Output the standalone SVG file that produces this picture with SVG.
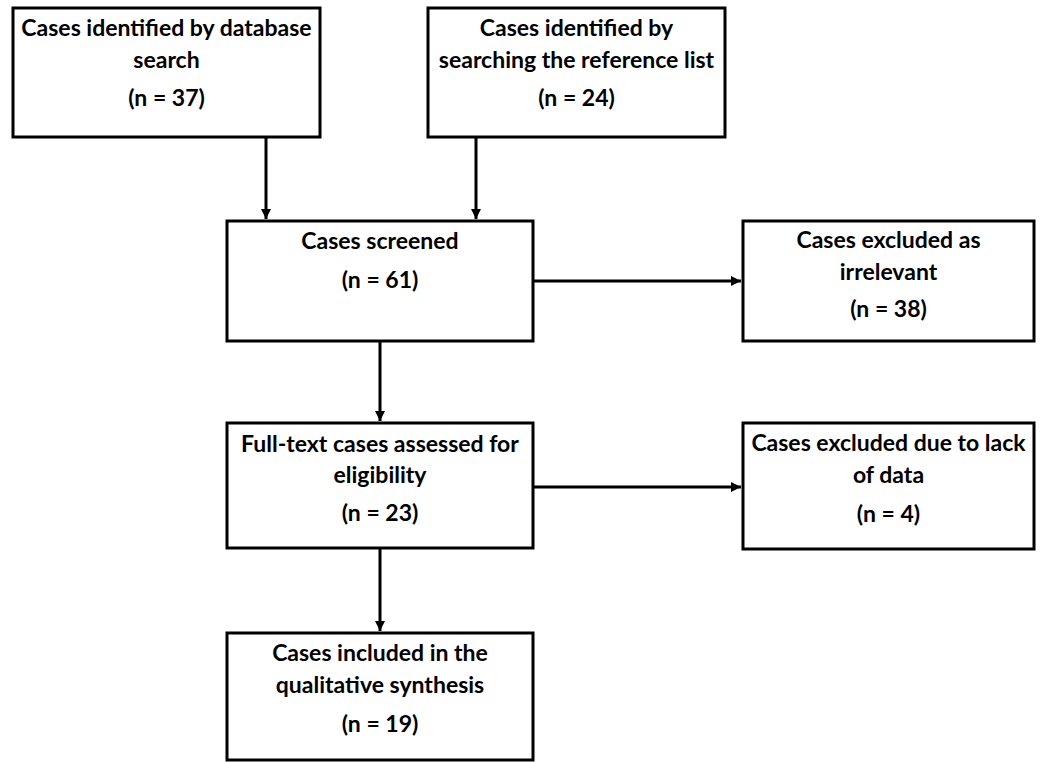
<svg xmlns="http://www.w3.org/2000/svg" width="1042" height="762" viewBox="0 0 1042 762">
<defs>
<style>
.box{fill:#fff;stroke:#000;stroke-width:3}
.t{font-family:Lato,"Open Sans","Liberation Sans",sans-serif;font-weight:700;font-size:23px;fill:#000;text-anchor:middle}
.c{stroke:#000;stroke-width:3;fill:none;marker-end:url(#ah)}
</style>
<marker id="ah" viewBox="0 0 10 10" refX="10" refY="5" markerWidth="10" markerHeight="10" markerUnits="userSpaceOnUse" orient="auto">
<path d="M0,0 L10,5 L0,10 z" fill="#000"/>
</marker>
</defs>
<rect width="1042" height="762" fill="#fff"/>
<g id="connectors">
<line class="c" x1="266" y1="138" x2="266" y2="219"/>
<line class="c" x1="476" y1="138" x2="476" y2="219"/>
<line class="c" x1="533" y1="281" x2="741" y2="281"/>
<line class="c" x1="380" y1="341" x2="380" y2="421"/>
<line class="c" x1="533" y1="487" x2="741" y2="487"/>
<line class="c" x1="380" y1="548" x2="380" y2="631"/>
</g>
<g id="n1">
<rect class="box" x="13" y="8" width="307" height="129"/>
<text class="t" x="166.500" y="36">Cases identified by database</text>
<text class="t" x="166.500" y="68">search</text>
<text class="t" x="166.500" y="106">(n = 37)</text>
</g>
<g id="n2">
<rect class="box" x="428" y="8" width="297" height="129"/>
<text class="t" x="576.500" y="36">Cases identified by</text>
<text class="t" x="576.500" y="68">searching the reference list</text>
<text class="t" x="576.500" y="106">(n = 24)</text>
</g>
<g id="n3">
<rect class="box" x="227" y="221" width="306" height="120"/>
<text class="t" x="380" y="249">Cases screened</text>
<text class="t" x="380" y="288">(n = 61)</text>
</g>
<g id="n4">
<rect class="box" x="743" y="221" width="291" height="120"/>
<text class="t" x="888.500" y="248">Cases excluded as</text>
<text class="t" x="888.500" y="280">irrelevant</text>
<text class="t" x="888.500" y="317">(n = 38)</text>
</g>
<g id="n5">
<rect class="box" x="227" y="423" width="306" height="125"/>
<text class="t" x="380" y="452">Full-text cases assessed for</text>
<text class="t" x="380" y="483">eligibility</text>
<text class="t" x="380" y="521">(n = 23)</text>
</g>
<g id="n6">
<rect class="box" x="743" y="423" width="291" height="126"/>
<text class="t" x="888.500" y="451">Cases excluded due to lack</text>
<text class="t" x="888.500" y="483">of data</text>
<text class="t" x="888.500" y="522">(n = 4)</text>
</g>
<g id="n7">
<rect class="box" x="227" y="633" width="306" height="127"/>
<text class="t" x="380" y="661">Cases included in the</text>
<text class="t" x="380" y="693">qualitative synthesis</text>
<text class="t" x="380" y="732">(n = 19)</text>
</g>
</svg>
